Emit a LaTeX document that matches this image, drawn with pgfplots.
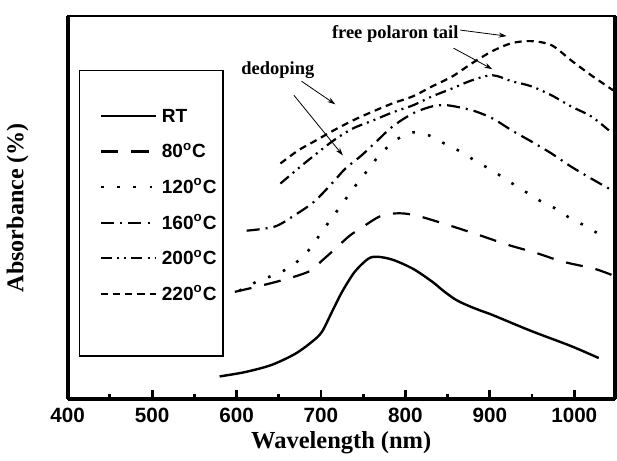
\documentclass[border={0pt 0pt 0pt 7pt}]{standalone}
\usepackage{fontspec}
\setmainfont{Liberation Serif}
\setsansfont{Liberation Sans}
\usepackage{pgfplots}
\pgfplotsset{compat=1.18}
\usetikzlibrary{arrows.meta}

\begin{document}
\begin{tikzpicture}
\begin{axis}[
  scale only axis, width=272.75pt, height=191pt,
  xmin=400, xmax=1048, ymin=0, ymax=382,
  clip=false,
  axis line style={black, line width=1pt, solid},
  xtick={400,500,...,1000}, minor xtick={450,550,...,950}, ytick=\empty,
  xtick pos=bottom, tick align=inside,
  major tick length=4.8pt, minor tick length=2.8pt,
  every tick/.style={black, solid, line width=1.4pt},
  xticklabel style={font=\fontsize{10.3}{12}\selectfont\sffamily\bfseries, yshift=-1pt},
  /pgf/number format/assume math mode=true,
  /pgf/number format/1000 sep={},
  xlabel={Wavelength (nm)}, ylabel={Absorbance (\%)},
  xlabel style={font=\fontsize{12.2}{14}\selectfont\bfseries, at={(axis description cs:0.5,-0.1126)}, anchor=center},
  ylabel style={font=\fontsize{12}{14}\selectfont\bfseries, at={(axis description cs:-0.0915,0.5)}, anchor=center},
  legend style={at={(rel axis cs:0.0475,0.768)}, anchor=north west, draw=none, fill=none,
    font=\fontsize{9.5}{11}\selectfont\sffamily\bfseries, row sep=11.25pt, column sep=2.5pt,
    nodes={inner sep=0pt, text height=6.5pt, text depth=0pt}},
  legend cell align=left,
  legend image code/.code={\draw[#1] (0pt,0pt) -- (27pt,0pt);},
]
% RT
\addplot[black, solid, line width=1.2pt, smooth, tension=0.5] coordinates {
(580,22.7) (610,27) (641,34) (669,45) (689,57) (701,67) (713,87) (725,107) (740,127) (756,140) (767,142) (785,139) (809,130) (832,117) (845,108) (860,99) (875,93) (890,88) (903,84) (949,68) (996,53) (1029,41)};
% 80
\addplot[black, line width=1.1pt, dash pattern=on 8.5pt off 6.5pt, smooth, tension=0.5] coordinates {
(598,107) (647,117) (685,127) (701,138) (717,150) (734,163) (750,172) (769,182) (785,185) (800,185) (818,182) (853,173) (886,164) (921,154) (954,146) (987,137) (1024,130) (1047,123)};
% 120
\addplot[black, line width=1.3pt, dash pattern=on 1.3pt off 6.7pt, smooth, tension=0.5] coordinates {
(603,108) (626,118) (645,124) (666,133) (687,150) (701,167) (715,183) (727,197) (741,213) (755,228) (769,243) (788,258) (809,266) (828,263) (846,255) (865,247) (884,237) (903,228) (921,218) (940,208) (959,198) (978,190) (996,180) (1015,172) (1034,162) (1040,160)};
% 160
\addplot[black, line width=1.1pt, dash pattern=on 6.5pt off 3pt on 1pt off 3pt, smooth, tension=0.5] coordinates {
(612,168) (645,172) (668,183) (692,197) (715,217) (729,230) (748,243) (767,258) (785,272) (809,285) (832,292) (850,293) (879,288) (903,280) (926,268) (949,257) (973,245) (996,232) (1020,220) (1041,210)};
% 200
\addplot[black, line width=1.1pt, dash pattern=on 5.5pt off 2.5pt on 1pt off 2.5pt on 1pt off 2.5pt, smooth, tension=0.5] coordinates {
(652,215) (673,230) (692,243) (715,258) (738,270) (762,278) (785,286) (809,293) (832,302) (856,310) (879,318) (903,323) (926,317) (949,312) (973,303) (996,292) (1020,282) (1041,268)};
% 220
\addplot[black, line width=1.1pt, dash pattern=on 3.5pt off 2.5pt, smooth, tension=0.5] coordinates {
(652,235) (673,248) (692,257) (715,268) (738,278) (762,287) (785,295) (809,302) (832,312) (856,322) (879,335) (903,347) (926,355) (949,357) (973,353) (996,338) (1020,323) (1046,308)};
\legend{RT, 80\textsuperscript{o}C, 120\textsuperscript{o}C, 160\textsuperscript{o}C, 200\textsuperscript{o}C, 220\textsuperscript{o}C}
% heavier frame sides
\draw[solid, line width=2.2pt] (rel axis cs:0,0) -- (rel axis cs:1,0);
\draw[solid, line width=2pt] (rel axis cs:0,0) -- (rel axis cs:0,1);
\draw[solid, line width=2pt] (rel axis cs:1,0) -- (rel axis cs:1,1);
% legend box
\draw[solid, line width=0.6pt] (axis cs:414,328) rectangle (axis cs:584,43);
% annotations
\node[font=\fontsize{9.2}{11}\selectfont\bfseries] at (axis cs:788,364) {free polaron tail};
\node[font=\fontsize{9.2}{11}\selectfont\bfseries] at (axis cs:649,328) {dedoping};
\draw[solid, line width=0.4pt, -{Stealth[length=4pt,width=2.5pt]}] (axis cs:865,368) -- (axis cs:920,362);
\draw[solid, line width=0.4pt, -{Stealth[length=4pt,width=2.5pt]}] (axis cs:857,350) -- (axis cs:903,329);
\draw[solid, line width=0.4pt, -{Stealth[length=4pt,width=2.5pt]}] (axis cs:677,317) -- (axis cs:717,294);
\draw[solid, line width=0.4pt, -{Stealth[length=4pt,width=2.5pt]}] (axis cs:668,303) -- (axis cs:726,243);
\end{axis}
\end{tikzpicture}
\end{document}
